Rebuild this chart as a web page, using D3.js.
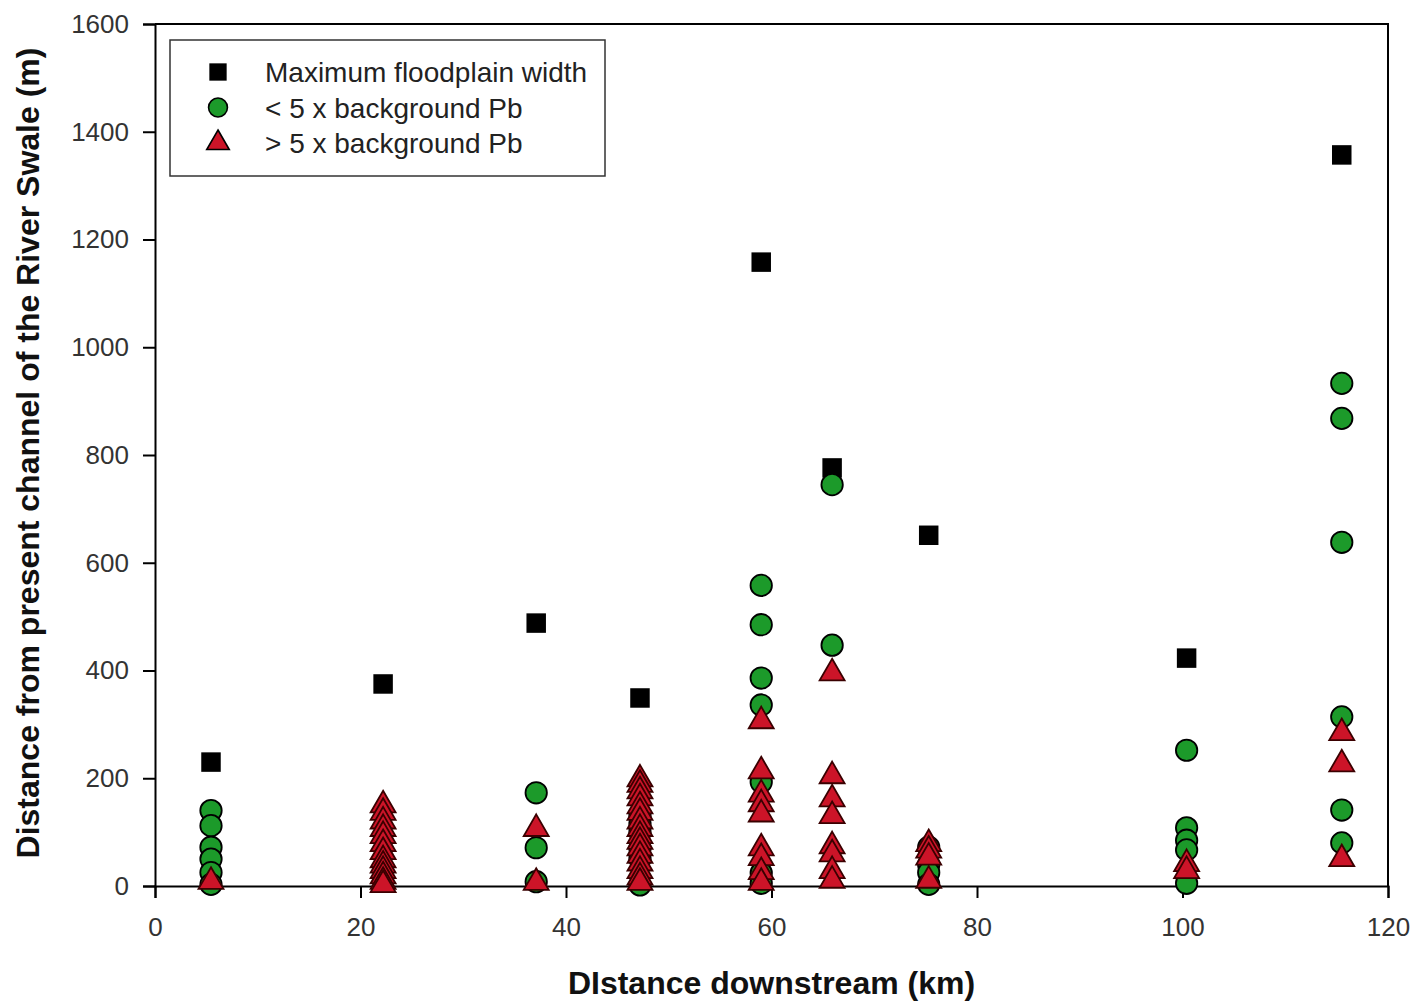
<!DOCTYPE html>
<html>
<head>
<meta charset="utf-8">
<script src="https://cdn.jsdelivr.net/npm/d3@7"></script>
<style>
  body { margin: 0; background: #fff; }
  text { font-family: "Liberation Sans", Arial, sans-serif; }
</style>
</head>
<body>
<div id="chart"></div>
<script>
// distance downstream (km) of each sampled reach
const sites = [5.45, 22.2, 37.1, 47.2, 59.0, 65.9, 75.3, 100.4, 115.5];

// maximum floodplain width (m) per site
const floodplainWidth = [230, 375, 488, 349, 1158, 776, 651, 423, 1357];

// < 5 x background Pb: [site km, distance m]
const lowPb = [
  [5.45, 140], [5.45, 112], [5.45, 72], [5.45, 50], [5.45, 25], [5.45, 3],
  [37.1, 173], [37.1, 71], [37.1, 8],
  [47.2, 130], [47.2, 115], [47.2, 100], [47.2, 70], [47.2, 50], [47.2, 2],
  [59.0, 558], [59.0, 485], [59.0, 386], [59.0, 336], [59.0, 193], [59.0, 24], [59.0, 5],
  [65.9, 745], [65.9, 447],
  [75.3, 72], [75.3, 40], [75.3, 25], [75.3, 3],
  [100.4, 252], [100.4, 108], [100.4, 85], [100.4, 67], [100.4, 5],
  [115.5, 933], [115.5, 868], [115.5, 638], [115.5, 314], [115.5, 141], [115.5, 80]
];

// > 5 x background Pb: [site km, distance m]
const highPb = [
  [5.45, 10],
  [22.2, 152], [22.2, 138], [22.2, 122], [22.2, 108], [22.2, 95], [22.2, 80], [22.2, 65],
  [22.2, 50], [22.2, 40], [22.2, 30], [22.2, 20], [22.2, 10], [22.2, 4],
  [37.1, 108], [37.1, 8],
  [47.2, 200], [47.2, 190], [47.2, 178], [47.2, 165], [47.2, 150], [47.2, 138], [47.2, 122],
  [47.2, 108], [47.2, 95], [47.2, 84], [47.2, 72], [47.2, 58], [47.2, 44], [47.2, 30], [47.2, 18], [47.2, 8],
  [59.0, 308], [59.0, 215], [59.0, 172], [59.0, 154], [59.0, 135], [59.0, 72], [59.0, 54], [59.0, 28], [59.0, 8],
  [65.9, 397], [65.9, 206], [65.9, 163], [65.9, 132], [65.9, 76], [65.9, 61], [65.9, 30], [65.9, 12],
  [75.3, 80], [75.3, 68], [75.3, 55], [75.3, 12],
  [100.4, 43], [100.4, 30],
  [115.5, 286], [115.5, 228], [115.5, 52]
];

const xTicks = [0, 20, 40, 60, 80, 100, 120];
const yTicks = [0, 200, 400, 600, 800, 1000, 1200, 1400, 1600];

const legendItems = [
  { label: "Maximum floodplain width", shape: "square" },
  { label: "< 5 x background Pb", shape: "circle" },
  { label: "> 5 x background Pb", shape: "triangle" }
];

const W = 1415, H = 1001;
const margin = { top: 24, right: 27, bottom: 115, left: 155 };
const width = W - margin.left - margin.right,
  height = H - margin.top - margin.bottom;

const green = "#1c9a2a", red = "#cc1428";

const svg = d3.select("#chart").append("svg")
  .attr("width", W)
  .attr("height", H);

const chart = svg.append("g")
  .attr("transform", `translate(${margin.left},${margin.top})`);

const x = d3.scaleLinear().domain([0, 120]).range([0, width]);
const y = d3.scaleLinear().domain([0, 1600]).range([height, 0]);

// frame top + right
chart.append("path")
  .attr("d", `M0,0H${width}V${height}`)
  .attr("fill", "none")
  .attr("stroke", "#000")
  .attr("stroke-width", 2);

const xAxis = chart.append("g")
  .attr("transform", `translate(0,${height})`)
  .call(d3.axisBottom(x).tickValues(xTicks).tickSize(12).tickPadding(20).tickFormat(d3.format("d")));

const yAxis = chart.append("g")
  .call(d3.axisLeft(y).tickValues(yTicks).tickSize(12).tickPadding(14).tickFormat(d3.format("d")));

[xAxis, yAxis].forEach(a => {
  a.select(".domain").attr("stroke-width", 2);
  a.selectAll(".tick line").attr("stroke-width", 2);
  a.selectAll(".tick text")
    .style("font-size", "26px")
    .attr("fill", "#333");
});

const sym = {
  square: d3.symbol().type(d3.symbolSquare).size(380),
  circle: d3.symbol().type(d3.symbolCircle).size(360),
  triangle: d3.symbol().type(d3.symbolTriangle).size(270)
};

chart.selectAll(".fp")
  .data(sites.map((s, i) => [s, floodplainWidth[i]]))
  .enter().append("path")
  .attr("class", "fp")
  .attr("d", sym.square)
  .attr("transform", d => `translate(${x(d[0])},${y(d[1])})`)
  .attr("fill", "#000");

chart.selectAll(".low")
  .data(lowPb)
  .enter().append("path")
  .attr("class", "low")
  .attr("d", sym.circle)
  .attr("transform", d => `translate(${x(d[0])},${y(d[1])})`)
  .attr("fill", green)
  .attr("stroke", "#000")
  .attr("stroke-width", 1.8);

chart.selectAll(".high")
  .data(highPb)
  .enter().append("path")
  .attr("class", "high")
  .attr("d", sym.triangle)
  .attr("transform", d => `translate(${x(d[0])},${y(d[1]) + 1})`)
  .attr("fill", red)
  .attr("stroke", "#3a0000")
  .attr("stroke-width", 1.8);

// legend
const legend = chart.append("g")
  .attr("transform", `translate(${170 - margin.left},${40 - margin.top})`);

legend.append("rect")
  .attr("width", 435)
  .attr("height", 136)
  .attr("fill", "#fff")
  .attr("stroke", "#333")
  .attr("stroke-width", 1.5);

legendItems.forEach((d, i) => {
  const row = legend.append("g")
    .attr("transform", `translate(48,${32 + i * 35.5})`);
  const s = d.shape === "square" ? d3.symbol().type(d3.symbolSquare).size(300)
    : d.shape === "circle" ? d3.symbol().type(d3.symbolCircle).size(280)
    : d3.symbol().type(d3.symbolTriangle).size(220);
  row.append("path")
    .attr("d", s)
    .attr("fill", d.shape === "square" ? "#000" : d.shape === "circle" ? green : red)
    .attr("stroke", d.shape === "square" ? "none" : "#000")
    .attr("stroke-width", 1.6);
  row.append("text")
    .attr("x", 47)
    .attr("dy", "0.36em")
    .style("font-size", "28px")
    .attr("fill", "#222")
    .text(d.label);
});

// axis titles
svg.append("text")
  .attr("x", margin.left + width / 2)
  .attr("y", 994)
  .attr("text-anchor", "middle")
  .style("font-size", "32px")
  .style("font-weight", "bold")
  .attr("fill", "#111")
  .text("DIstance downstream (km)");

svg.append("text")
  .attr("transform", `translate(39,${453}) rotate(-90)`)
  .attr("text-anchor", "middle")
  .style("font-size", "32px")
  .style("font-weight", "bold")
  .attr("fill", "#111")
  .text("Distance from present channel of the River Swale (m)");
</script>
</body>
</html>
